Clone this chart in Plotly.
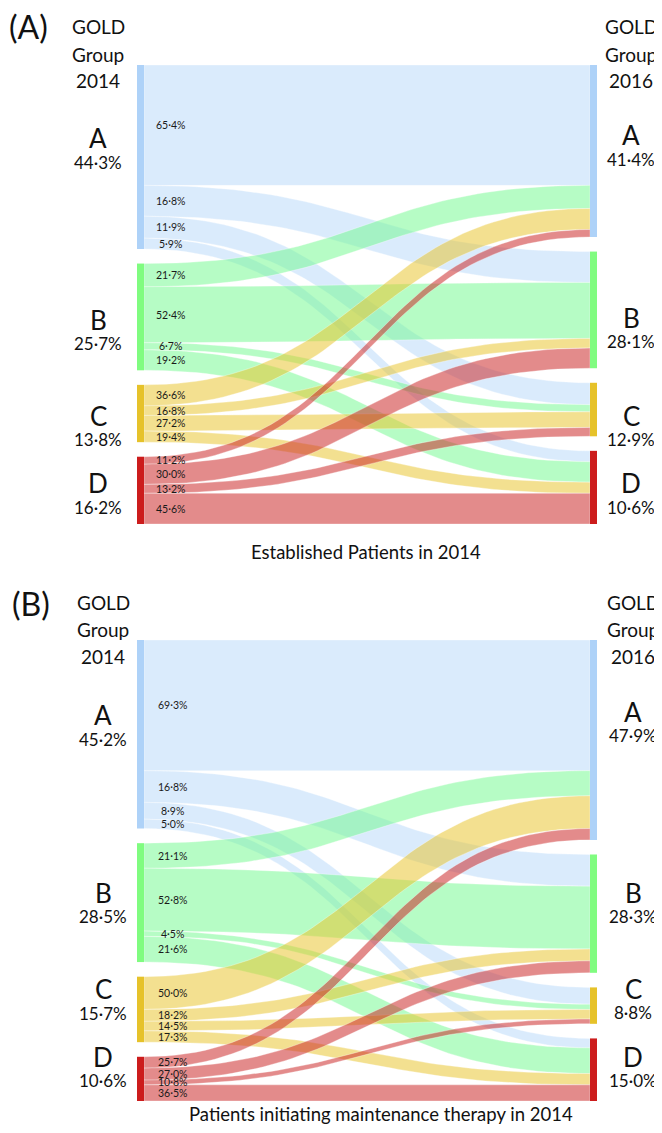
import numpy as np
import plotly.graph_objects as go

# ---------------- data ----------------
groups = ["A", "B", "C", "D"]

est_share_2014 = [44.3, 25.7, 13.8, 16.2]
est_share_2016_labels = [41.4, 28.1, 12.9, 10.6]
est_flows = [[65.4, 16.8, 11.9, 5.9],
             [21.7, 52.4, 6.7, 19.2],
             [36.6, 16.8, 27.2, 19.4],
             [11.2, 30.0, 13.2, 45.6]]

new_share_2014 = [45.2, 28.5, 15.7, 10.6]
new_share_2016_labels = [47.9, 28.3, 8.8, 15.0]
new_flows = [[69.3, 16.8, 8.9, 5.0],
             [21.1, 52.8, 4.5, 21.6],
             [50.0, 18.2, 14.5, 17.3],
             [25.7, 27.0, 10.8, 36.5]]

captions = ["Established Patients in 2014",
            "Patients initiating maintenance therapy in 2014"]
panel_tags = ["(A)", "(B)"]
year_left, year_right = "2014", "2016"

# ---------------- style / layout ----------------
PAGE_OFF = 8                      # default body margin of the html page
W, H = 662 - PAGE_OFF, 1133 - 2 * PAGE_OFF
FONT = "Lato"
node_colors = ["#aed2f8", "#80fc80", "#e6c22a", "#cc1c1c"]
link_colors = ["rgba(174,210,248,0.45)", "rgba(110,250,140,0.50)",
               "rgba(232,196,42,0.52)", "rgba(204,40,40,0.54)"]
GAP = 3.5
LEFT_PX, RIGHT_PX = 137, 597      # window pixels of outer node edges
SPAN = RIGHT_PX - LEFT_PX
NODE_W = 7 / SPAN
X_RANGE = [-(LEFT_PX - PAGE_OFF) / SPAN, (W - (LEFT_PX - PAGE_OFF)) / SPAN]

panels = [
    dict(share=est_share_2014, flows=est_flows, rlab=est_share_2016_labels,
         top=65, bottom=524, yax="y", lab_left_px=98, lab_right_px=631,
         left_off=[-19, 3, 2, -7], right_off=[-16, 8, 6, -4],
         cap_x=366, cap_y=552, link_lab_px=170.5, tag_x=28, tag_y=26),
    dict(share=new_share_2014, flows=new_flows, rlab=new_share_2016_labels,
         top=640, bottom=1101, yax="y2", lab_left_px=103, lab_right_px=633,
         left_off=[-19, -10, -20, -22], right_off=[-28, -21, -17, -13],
         cap_x=381, cap_y=1114, link_lab_px=172, tag_x=31, tag_y=603),
]


def fmt(v):
    return f"{v:.1f}".replace(".", "\u00b7") + "%"


def px_to_x(px):
    return X_RANGE[0] + (px - PAGE_OFF) / W * (X_RANGE[1] - X_RANGE[0])


def pxp(px):
    return (px - PAGE_OFF) / W


def py(px):
    return 1 - (px - PAGE_OFF) / H


fig = go.Figure()
annotations = []

for k, p in enumerate(panels):
    share = np.array(p["share"], dtype=float)
    fl = np.array(p["flows"], dtype=float) / 100.0
    vals = share[:, None] * fl  # value of link i->j
    incoming = vals.sum(axis=0)
    ltop = np.array([share[:i].sum() + i * GAP for i in range(4)])
    rtop = np.array([incoming[:j].sum() + j * GAP for j in range(4)])
    yax = p["yax"]
    x0, x1 = NODE_W, 1 - NODE_W
    t = np.linspace(0, 1, 60)

    def bez(a, b):
        xs = (1 - t) ** 3 * x0 + 3 * (1 - t) ** 2 * t * 0.5 + 3 * (1 - t) * t ** 2 * 0.5 + t ** 3 * x1
        ys = (1 - t) ** 3 * a + 3 * (1 - t) ** 2 * t * a + 3 * (1 - t) * t ** 2 * b + t ** 3 * b
        return xs, ys

    rstart = np.zeros((4, 4))
    for j in range(4):
        c = rtop[j]
        for i in range(4):
            rstart[i, j] = c
            c += vals[i, j]

    for i in range(4):
        lc = ltop[i]
        for j in range(4):
            v = vals[i, j]
            ya0, yb0 = lc, lc + v
            ya1, yb1 = rstart[i, j], rstart[i, j] + v
            xt, yt = bez(ya0, ya1)
            xb, yb = bez(yb0, yb1)
            xs = np.concatenate([xt, xb[::-1], [xt[0]]])
            ys = np.concatenate([yt, yb[::-1], [yt[0]]])
            fig.add_trace(go.Scatter(x=xs, y=ys, mode="lines", fill="toself",
                                     fillcolor=link_colors[i],
                                     line=dict(color="rgba(255,255,255,0.55)", width=0.6),
                                     hoverinfo="skip", showlegend=False,
                                     xaxis="x", yaxis=yax))
            annotations.append(dict(x=px_to_x(p["link_lab_px"]), y=lc + v / 2,
                                    xref="x", yref=yax, text=fmt(p["flows"][i][j]),
                                    showarrow=False, xanchor="center", yanchor="middle",
                                    font=dict(family=FONT, size=10.5, color="#1a1a1a")))
            lc += v

    # nodes
    for i in range(4):
        for (xa, xb_, top, h) in [(0, NODE_W, ltop[i], share[i]),
                                  (1 - NODE_W, 1, rtop[i], incoming[i])]:
            fig.add_trace(go.Scatter(x=[xa, xb_, xb_, xa, xa],
                                     y=[top, top, top + h, top + h, top],
                                     mode="lines", fill="toself",
                                     fillcolor=node_colors[i],
                                     line=dict(width=0, color=node_colors[i]),
                                     hoverinfo="skip", showlegend=False,
                                     xaxis="x", yaxis=yax))

    # node labels
    for tops, hs, labs, xpx, offs in [
        (ltop, share, p["share"], p["lab_left_px"], p["left_off"]),
        (rtop, incoming, p["rlab"], p["lab_right_px"], p["right_off"])]:
        for i in range(4):
            cy = tops[i] + hs[i] / 2
            annotations.append(dict(x=px_to_x(xpx), y=cy, xref="x", yref=yax,
                                    text=groups[i], showarrow=False,
                                    xanchor="center", yanchor="middle",
                                    yshift=-offs[i],
                                    font=dict(family=FONT, size=26, color="#111")))
            annotations.append(dict(x=px_to_x(xpx), y=cy, xref="x", yref=yax,
                                    text=fmt(labs[i]), showarrow=False,
                                    xanchor="center", yanchor="middle",
                                    yshift=-offs[i] - 24,
                                    font=dict(family=FONT, size=17, color="#111")))

    # headers
    top = p["top"]
    for xpx, year in [(p["lab_left_px"], year_left), (p["lab_right_px"], year_right)]:
        for txt, dy in [("GOLD", -38), ("Group", -11), (year, 16)]:
            annotations.append(dict(x=pxp(xpx), y=py(top + dy), xref="paper", yref="paper",
                                    text=txt, showarrow=False, xanchor="center",
                                    yanchor="middle",
                                    font=dict(family=FONT, size=19, color="#111")))

    annotations.append(dict(x=pxp(p["tag_x"]), y=py(p["tag_y"]), xref="paper", yref="paper",
                            text=panel_tags[k], showarrow=False,
                            xanchor="center", yanchor="middle",
                            font=dict(family=FONT, size=32, color="#111")))
    annotations.append(dict(x=pxp(p["cap_x"]), y=py(p["cap_y"]), xref="paper", yref="paper",
                            text=captions[k], showarrow=False,
                            xanchor="center", yanchor="middle",
                            font=dict(family=FONT, size=18.5, color="#111")))

axis_off = dict(visible=False, showgrid=False, zeroline=False, fixedrange=True)
fig.update_layout(
    width=W, height=H, margin=dict(l=0, r=0, t=0, b=0),
    paper_bgcolor="white", plot_bgcolor="white",
    xaxis=dict(range=X_RANGE, domain=[0, 1], **axis_off),
    yaxis=dict(range=[100 + 3 * GAP, 0],
               domain=[py(panels[0]["bottom"]), py(panels[0]["top"])], **axis_off),
    yaxis2=dict(range=[100 + 3 * GAP, 0],
                domain=[py(panels[1]["bottom"]), py(panels[1]["top"])],
                anchor="x", **axis_off),
    annotations=annotations,
    showlegend=False,
)

fig.write_html("out.html")
